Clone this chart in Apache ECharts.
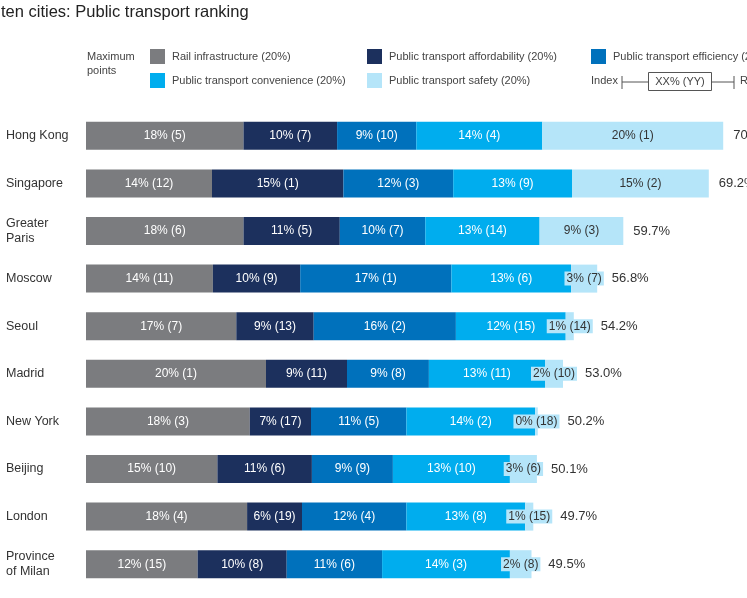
<!DOCTYPE html>
<html>
<head>
<meta charset="utf-8">
<script src="https://cdn.jsdelivr.net/npm/echarts@6/dist/echarts.min.js"></script>
<style>
  html, body { margin: 0; padding: 0; background: #fff; }
  #main { width: 747px; height: 598px; }
</style>
</head>
<body>
<div id="main"></div>
<script>
// cities, top to bottom
var cities = ['Hong Kong', 'Singapore', 'Greater\nParis', 'Moscow', 'Seoul', 'Madrid',
    'New York', 'Beijing', 'London', 'Province\nof Milan'];

// segment scores (% points)
var rail       = [17.5, 14.0, 17.5, 14.1, 16.7, 20.0, 18.2, 14.6, 17.9, 12.4];
var afford     = [10.4, 14.6, 10.7,  9.7,  8.6,  9.0,  6.8, 10.5,  6.1,  9.9];
var efficiency = [ 8.8, 12.2,  9.5, 16.8, 15.8,  9.1, 10.6,  9.0, 11.6, 10.6];
var convenience= [14.0, 13.2, 12.7, 13.3, 12.2, 12.9, 14.3, 13.0, 13.2, 14.2];
var safety     = [20.1, 15.2,  9.3,  2.9,  0.9,  2.0,  0.3,  3.0,  0.9,  2.4];

// rank of each city per criterion
var railRank  = [5, 12, 6, 11, 7, 1, 3, 10, 4, 15];
var affRank   = [7, 1, 5, 9, 13, 11, 17, 6, 19, 8];
var effRank   = [10, 3, 7, 1, 2, 8, 5, 9, 4, 6];
var convRank  = [4, 9, 14, 6, 15, 11, 2, 10, 8, 3];
var safeRank  = [1, 2, 3, 7, 14, 10, 18, 6, 15, 8];

// overall index
var index = [70.8, 69.2, 59.7, 56.8, 54.2, 53.0, 50.2, 50.1, 49.7, 49.5];

var names = ['Rail infrastructure (20%)', 'Public transport affordability (20%)',
    'Public transport efficiency (20%)', 'Public transport convenience (20%)',
    'Public transport safety (20%)'];
var colors = ['#7b7c7f', '#1c305d', '#0071bc', '#00adee', '#b5e5f9'];

var font = 'Liberation Sans, Arial, sans-serif';
var myChart = echarts.init(document.getElementById('main'));

function segText(v, r) {
    return Math.round(v) + '% (' + r + ')';
}

// width of a safety label, so the index text can sit after it
var ctx = document.createElement('canvas').getContext('2d');
ctx.font = '12px ' + font;
function textWidth(s) { return ctx.measureText(s).width; }

function seg(i, data, ranks, textColor, bg) {
    return {
        name: names[i],
        type: 'bar',
        stack: 'total',
        barWidth: 28,
        barGap: '-100%',
        itemStyle: { color: colors[i] },
        label: {
            show: true,
            position: 'inside',
            color: textColor,
            fontSize: 12,
            fontFamily: font,
            backgroundColor: bg || 'transparent',
            padding: bg ? [1, 2] : 0,
            formatter: function (p) {
                return segText(p.value, ranks[p.dataIndex]);
            }
        },
        data: data
    };
}

var legendText = { fontSize: 11, color: '#444', fontFamily: font, padding: [0, 0, 0, 2] };
function legendBlock(left, items) {
    return {
        left: left, top: 49, orient: 'vertical', padding: 0,
        itemWidth: 15, itemHeight: 15, itemGap: 9, icon: 'rect',
        selectedMode: false, textStyle: legendText, data: items
    };
}

var option = {
    textStyle: { fontFamily: font },
    title: {
        text: 'ten cities: Public transport ranking',
        left: 1, top: 4, padding: 0,
        textStyle: { fontSize: 16.5, fontWeight: 'normal', color: '#222', fontFamily: font }
    },
    legend: [
        legendBlock(150, [names[0], names[3]]),
        legendBlock(367, [names[1], names[4]]),
        legendBlock(591, [names[2]])
    ],
    graphic: [
        { type: 'text', left: 87, top: 50,
          style: { text: 'Maximum\npoints', fontSize: 11, lineHeight: 14, fill: '#444', fontFamily: font } },
        { type: 'text', left: 591, top: 75,
          style: { text: 'Index', fontSize: 11, fill: '#444', fontFamily: font } },
        { type: 'line', shape: { x1: 622, y1: 76, x2: 622, y2: 89 }, style: { stroke: '#555', lineWidth: 1 } },
        { type: 'line', shape: { x1: 622, y1: 82, x2: 648, y2: 82 }, style: { stroke: '#555', lineWidth: 1 } },
        { type: 'rect', shape: { x: 648.5, y: 72.5, width: 63, height: 18 },
          style: { fill: '#fff', stroke: '#555', lineWidth: 1 } },
        { type: 'text', x: 680, y: 82,
          style: { text: 'XX% (YY)', fontSize: 11, fill: '#444', fontFamily: font, align: 'center', verticalAlign: 'middle' } },
        { type: 'line', shape: { x1: 711, y1: 82, x2: 734, y2: 82 }, style: { stroke: '#555', lineWidth: 1 } },
        { type: 'line', shape: { x1: 734, y1: 76, x2: 734, y2: 89 }, style: { stroke: '#555', lineWidth: 1 } },
        { type: 'text', left: 740, top: 75,
          style: { text: 'Rank', fontSize: 11, fill: '#444', fontFamily: font } }
    ],
    grid: { left: 86, top: 112, right: 4, bottom: 10 },
    xAxis: { type: 'value', min: 0, max: 73, show: false },
    yAxis: {
        type: 'category',
        inverse: true,
        data: cities,
        axisLine: { show: false },
        axisTick: { show: false },
        axisLabel: {
            align: 'left', margin: 80, fontSize: 12.5, lineHeight: 15,
            color: '#333', fontFamily: font
        }
    },
    series: [
        seg(0, rail, railRank, '#fff'),
        seg(1, afford, affRank, '#fff'),
        seg(2, efficiency, effRank, '#fff'),
        seg(3, convenience, convRank, '#fff'),
        seg(4, safety, safeRank, '#333', colors[4]),
        {
            name: 'Index',
            type: 'bar',
            barWidth: 28,
            barGap: '-100%',
            silent: true,
            z: 1,
            itemStyle: { color: 'transparent' },
            label: {
                show: true, position: 'right', distance: 10,
                fontSize: 13, color: '#333', fontFamily: font,
                formatter: function (p) { return p.value.toFixed(1) + '%'; }
            },
            // push the index past the safety label when that label sticks out
            labelLayout: function (p) {
                var i = p.dataIndex;
                var r = p.rect;
                var perUnit = r.width / index[i];
                var barEnd = r.x + r.width;
                var mid = r.x + (index[i] - safety[i] / 2) * perUnit;
                var boxEnd = mid + textWidth(segText(safety[i], safeRank[i])) / 2 + 2;
                var x = boxEnd + 8 > barEnd + 10 ? boxEnd + 8 : barEnd + 10;
                return { x: x, y: r.y + r.height / 2, align: 'left', verticalAlign: 'middle' };
            },
            data: index
        }
    ]
};

myChart.setOption(option);
</script>
</body>
</html>
